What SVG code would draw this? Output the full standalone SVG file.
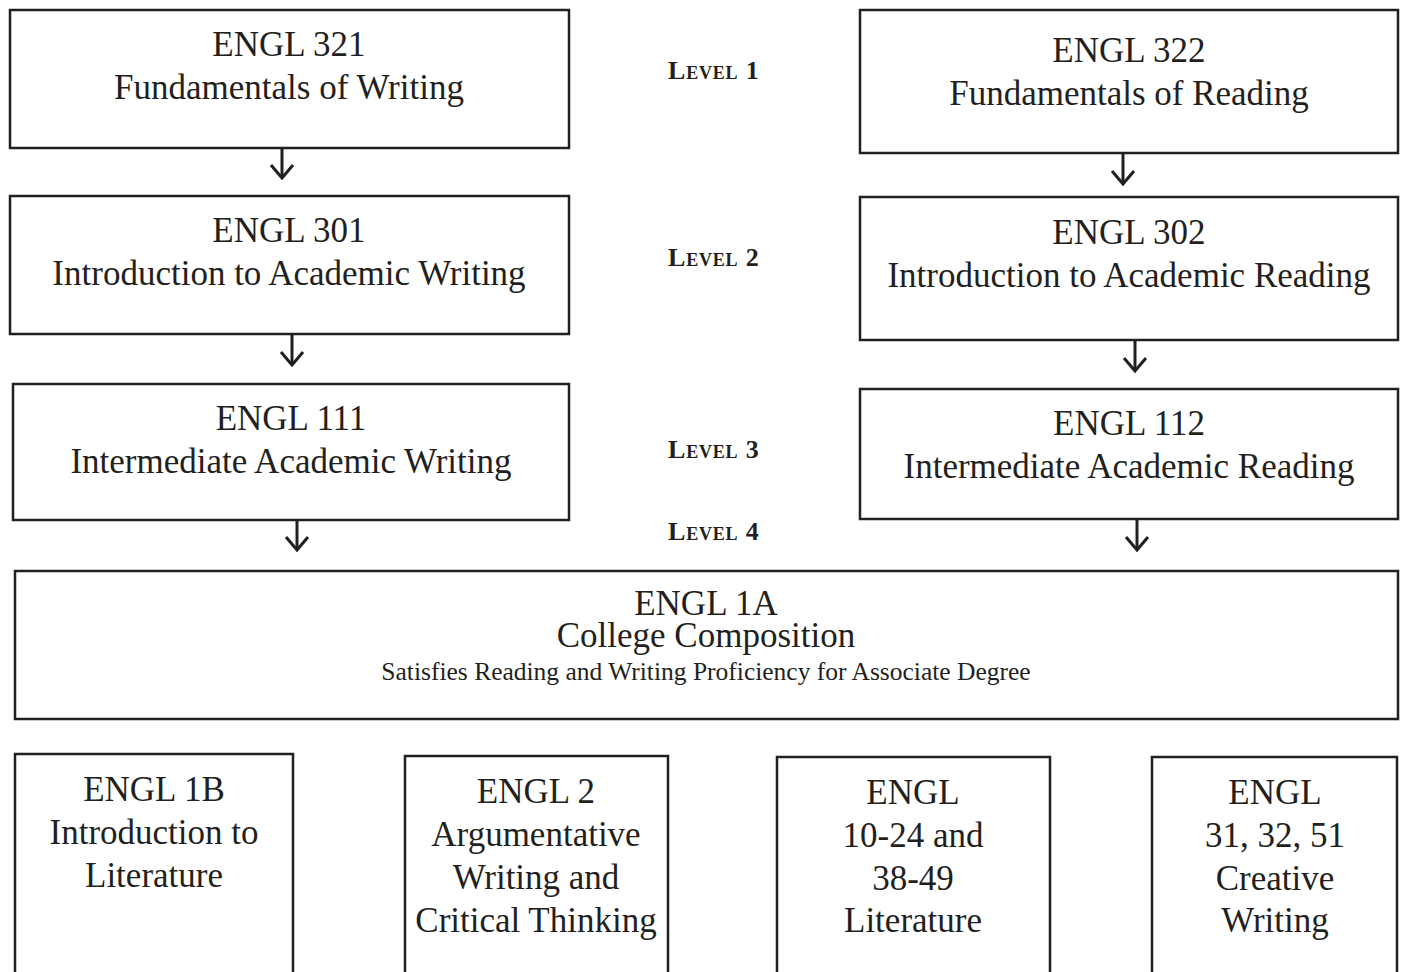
<svg xmlns="http://www.w3.org/2000/svg" width="1410" height="972" viewBox="0 0 1410 972">
<style>
.box{fill:#fff;stroke:#231f20;stroke-width:2.5}
.t{font-family:"Liberation Serif",serif;font-size:35px;fill:#231f20;text-anchor:middle}
.s{font-family:"Liberation Serif",serif;font-size:25.5px;fill:#231f20;text-anchor:middle}
.lv{font-family:"Liberation Serif",serif;font-size:26px;font-weight:bold;font-variant:small-caps;letter-spacing:0.8px;fill:#231f20}
.c{fill:none;stroke:#231f20;stroke-width:3}
</style>
<defs>
<marker id="ah" viewBox="0 0 16 26" refX="14.5" refY="13" markerWidth="16" markerHeight="26" markerUnits="userSpaceOnUse" orient="auto">
<path d="M1.5,2 L14.5,13 L1.5,24" fill="none" stroke="#231f20" stroke-width="3"/>
</marker>
</defs>
<rect width="1410" height="972" fill="#fff"/>
<g id="n321"><rect class="box" x="10" y="10" width="559" height="138"/><text class="t" x="289" y="56">ENGL 321</text><text class="t" x="289" y="99">Fundamentals of Writing</text></g>
<g id="n322"><rect class="box" x="860" y="10" width="538" height="143"/><text class="t" x="1129" y="62">ENGL 322</text><text class="t" x="1129" y="105">Fundamentals of Reading</text></g>
<g id="n301"><rect class="box" x="10" y="196" width="559" height="138"/><text class="t" x="289" y="242">ENGL 301</text><text class="t" x="289" y="285">Introduction to Academic Writing</text></g>
<g id="n302"><rect class="box" x="860" y="197" width="538" height="143"/><text class="t" x="1129" y="244">ENGL 302</text><text class="t" x="1129" y="287">Introduction to Academic Reading</text></g>
<g id="n111"><rect class="box" x="13" y="384" width="556" height="136"/><text class="t" x="291" y="430">ENGL 111</text><text class="t" x="291" y="473">Intermediate Academic Writing</text></g>
<g id="n112"><rect class="box" x="860" y="389" width="538" height="130"/><text class="t" x="1129" y="435">ENGL 112</text><text class="t" x="1129" y="478">Intermediate Academic Reading</text></g>
<g id="levels">
<text class="lv" x="668" y="79">Level 1</text>
<text class="lv" x="668" y="266">Level 2</text>
<text class="lv" x="668" y="458">Level 3</text>
<text class="lv" x="668" y="540">Level 4</text>
</g>
<g id="n1a"><rect class="box" x="15" y="571" width="1383" height="148"/><text class="t" x="706" y="615">ENGL 1A</text><text class="t" x="706" y="647">College Composition</text><text class="s" x="706" y="680">Satisfies Reading and Writing Proficiency for Associate Degree</text></g>
<g id="n1b"><rect class="box" x="15" y="754" width="278" height="230"/><text class="t" x="154" y="801">ENGL 1B</text><text class="t" x="154" y="844">Introduction to</text><text class="t" x="154" y="887">Literature</text></g>
<g id="n2"><rect class="box" x="405" y="756" width="263" height="230"/><text class="t" x="536" y="803">ENGL 2</text><text class="t" x="536" y="846">Argumentative</text><text class="t" x="536" y="889">Writing and</text><text class="t" x="536" y="932">Critical Thinking</text></g>
<g id="n10"><rect class="box" x="777" y="757" width="273" height="230"/><text class="t" x="913" y="804">ENGL</text><text class="t" x="913" y="847">10-24 and</text><text class="t" x="913" y="890">38-49</text><text class="t" x="913" y="932">Literature</text></g>
<g id="n31"><rect class="box" x="1152" y="757" width="245" height="230"/><text class="t" x="1275" y="804">ENGL</text><text class="t" x="1275" y="847">31, 32, 51</text><text class="t" x="1275" y="890">Creative</text><text class="t" x="1275" y="932">Writing</text></g>
<g id="connectors">
<line class="c" x1="282" y1="148" x2="282" y2="178" marker-end="url(#ah)"/>
<line class="c" x1="1123" y1="153" x2="1123" y2="184" marker-end="url(#ah)"/>
<line class="c" x1="292" y1="334" x2="292" y2="365" marker-end="url(#ah)"/>
<line class="c" x1="1135" y1="340" x2="1135" y2="371" marker-end="url(#ah)"/>
<line class="c" x1="297" y1="520" x2="297" y2="550" marker-end="url(#ah)"/>
<line class="c" x1="1137" y1="519" x2="1137" y2="550" marker-end="url(#ah)"/>
</g>
</svg>
